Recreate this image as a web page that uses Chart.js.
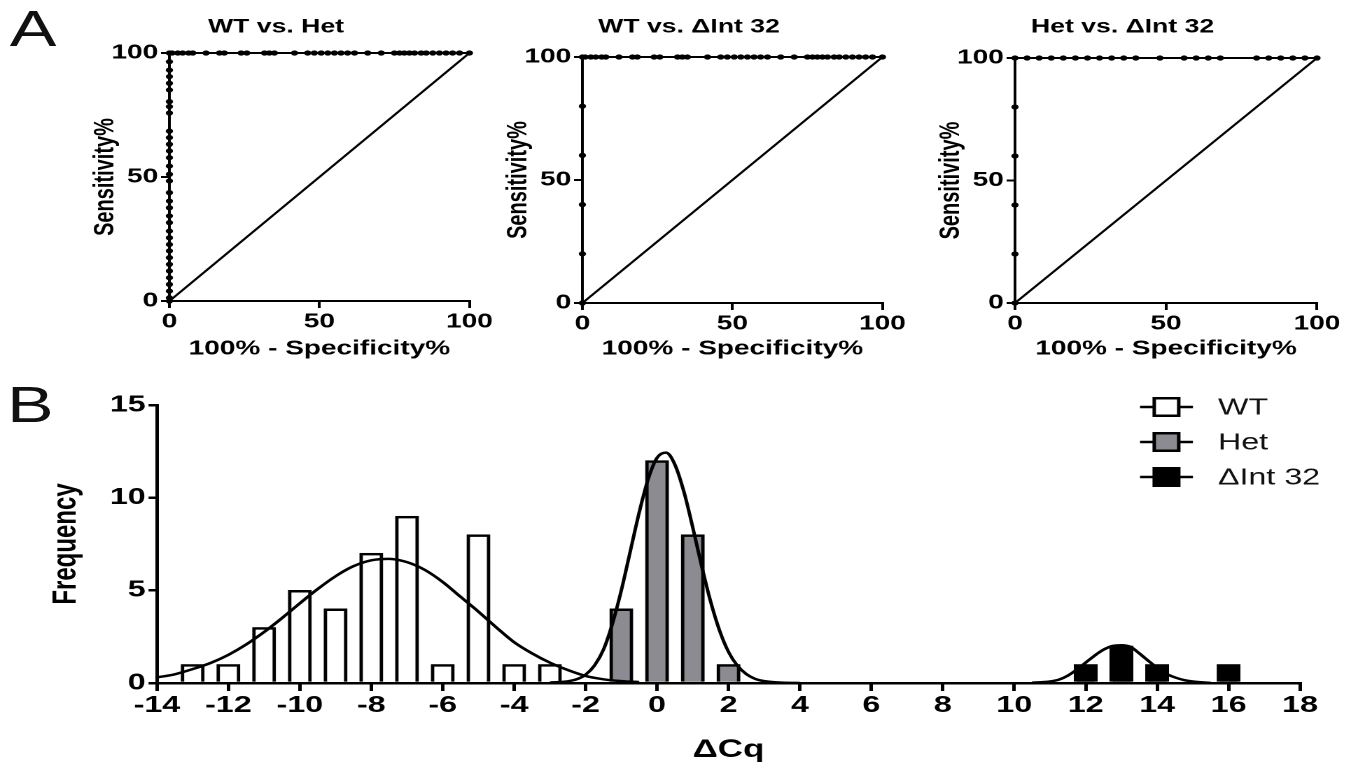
<!DOCTYPE html>
<html>
<head>
<meta charset="utf-8">
<title>ROC curves and ΔCq frequency distribution</title>
<script src="https://cdn.jsdelivr.net/npm/chart.js@4.4.1/dist/chart.umd.min.js"></script>
<style>
  body { margin: 0; background: #fff; overflow: hidden; }
  /* the source figure is stretched sideways, so the whole figure is drawn 968px wide and widened */
  #fig { position: absolute; left: 0; top: 0; width: 968px; height: 777px; transform: scaleX(1.4); transform-origin: 0 0; }
  #fig canvas { position: absolute; }
  .panel-tag { position: absolute; font: 50px/50px "Liberation Sans", Arial, sans-serif; color: #111; }
</style>
</head>
<body>
<div id="fig">
  <div class="panel-tag" style="left:7px; top:4px;">A</div>
  <div class="panel-tag" style="left:5px; top:380px;">B</div>
</div>
<script>
/* ---- panel A: ROC curves ---- */
const rocTitles = ['WT vs. Het', 'WT vs. \u0394Int 32', 'Het vs. \u0394Int 32'];
const rocTicks = [0, 50, 100];
// sensitivity steps along 100% - specificity = 0
const hetSensY = [0, 1.3, 4, 6.7, 9.4, 12.1, 14.8, 17.5, 20.2, 22.8, 25.5, 28.2, 31.6, 34.3, 37.6, 40.3,
                  43.7, 48.4, 51.1, 54.4, 57.8, 60.5, 63.2, 65.9, 68.5, 75.8, 78.4, 80.4, 85.1, 87.8, 90.5, 93.1, 96.5];
const int32SensY = [0, 20, 40, 60, 80];
// 100% - specificity steps along sensitivity = 100
const wtSpecX = [0, 0.9, 2.8, 4.4, 6.4, 7.8, 12.2, 16.7, 18.3, 23.9, 25.8, 31.7, 33.3, 35, 41.7, 46.1, 48.3,
                 50.6, 52.8, 55, 57.2, 59.4, 61.7, 66.1, 70.6, 75, 76.7, 78.3, 80, 81.7, 83.9, 85.6, 87.8,
                 90, 92.2, 94.4, 96.7, 100];
const hetSpecX = [0, 4, 8, 12, 16, 20, 24, 28, 32, 36, 40, 48, 56, 60, 64, 68, 80, 84, 88, 92, 96, 100];
const diagonal = [0, 100];

/* ---- panel B: frequency of dCq ---- */
const dcqTicks = [-14, -12, -10, -8, -6, -4, -2, 0, 2, 4, 6, 8, 10, 12, 14, 16, 18];
const freqTicks = [0, 5, 10, 15];
const wtBins = [-13, -12, -11, -10, -9, -8, -7, -6, -5, -4, -3];
const wtCounts = [1, 1, 3, 5, 4, 7, 9, 1, 8, 1, 1];
const hetBins = [-1, 0, 1, 2];
const hetCounts = [4, 12, 8, 1];
const int32Bins = [12, 13, 14, 16];
const int32Counts = [1, 2, 1, 1];
// fitted curves
const wtFitX = [-14, -13.5, -13, -12.5, -12, -11.5, -11, -10.5, -10, -9.5, -9, -8.5, -8, -7.5, -7, -6.5,
                -6, -5.5, -5, -4.5, -4, -3.5, -3, -2.5, -2, -1.5, -1, -0.5];
const wtFitY = [0.30, 0.47, 0.75, 1.08, 1.52, 2.08, 2.75, 3.5, 4.3, 5.07, 5.76, 6.3, 6.62, 6.7, 6.52, 6.1,
                5.45, 4.65, 3.85, 3.0, 2.2, 1.6, 1.1, 0.7, 0.38, 0.2, 0.1, 0.05];
const hetFitX = [-3, -2.5, -2.25, -2, -1.75, -1.5, -1.25, -1, -0.75, -0.5, -0.25, 0, 0.25, 0.5, 0.75, 1,
                 1.25, 1.5, 1.75, 2, 2.25, 2.5, 2.75, 3, 3.5, 4];
const hetFitY = [0.02, 0.09, 0.2, 0.45, 0.95, 1.8, 3.2, 5.0, 7.1, 9.2, 11.0, 12.15, 12.43, 11.78, 10.33, 8.39,
                 6.3, 4.39, 2.83, 1.68, 0.93, 0.48, 0.22, 0.1, 0.02, 0];
const int32FitX = [10.5, 10.75, 11, 11.25, 11.5, 11.75, 12, 12.25, 12.5, 12.75, 13, 13.25, 13.5, 13.75, 14,
                   14.25, 14.5, 14.75, 15, 15.5];
const int32FitY = [0.02, 0.04, 0.08, 0.18, 0.4, 0.72, 1.1, 1.48, 1.8, 2.0, 2.04, 1.95, 1.6, 1.2, 0.82,
                   0.5, 0.3, 0.16, 0.08, 0.01];

Chart.defaults.font.family = '"Liberation Sans", Arial, sans-serif';
Chart.defaults.color = '#000';

const fig = document.getElementById('fig');
function makeCanvas(left, top, w, h) {
  const c = document.createElement('canvas');
  c.width = w; c.height = h;
  c.style.left = left + 'px'; c.style.top = top + 'px';
  fig.appendChild(c);
  return c;
}
const pairs = (xs, ys) => xs.map((x, i) => ({x: x, y: ys[i]}));
const useTicks = arr => scale => { scale.ticks = arr.map(v => ({value: v})); };

const rocPanels = [
  {title: rocTitles[0], sens: hetSensY, spec: wtSpecX},
  {title: rocTitles[1], sens: int32SensY, spec: wtSpecX},
  {title: rocTitles[2], sens: int32SensY, spec: hetSpecX}
];
// plot-area boxes in figure pixels (before the sideways stretch)
const rocBoxes = [
  {left: 121.4, right: 335.7, top: 53, bottom: 301},
  {left: 415.7, right: 630, top: 57, bottom: 303},
  {left: 725, right: 940.7, top: 58, bottom: 303}
];
const SIDE = 62, ROC_H = 372;

rocPanels.forEach((p, i) => {
  const b = rocBoxes[i];
  const areaW = b.right - b.left;
  const w = Math.round(areaW + 2 * SIDE);
  const canvas = makeCanvas(b.left - SIDE, 0, w, ROC_H);
  const rocPts = p.sens.map(s => ({x: 0, y: s})).concat(p.spec.map(f => ({x: f, y: 100})));
  new Chart(canvas, {
    type: 'scatter',
    data: {
      datasets: [
        {data: rocPts, showLine: true, borderColor: '#000', backgroundColor: '#000', borderWidth: 2,
         pointRadius: 2.6, pointBorderWidth: 0, clip: false},
        {data: pairs(diagonal, diagonal), showLine: true, borderColor: '#000', borderWidth: 1.8,
         pointRadius: 0, clip: false}
      ]
    },
    options: {
      responsive: false, animation: false, devicePixelRatio: 2,
      layout: {padding: {left: 0, right: w - SIDE - areaW, top: 0, bottom: 0}},
      plugins: {
        legend: {display: false}, tooltip: {enabled: false},
        title: {display: true, text: p.title, color: '#000', font: {size: 19, weight: 'bold'},
                padding: {top: 16, bottom: b.top - 38.8}}
      },
      scales: {
        x: {
          type: 'linear', min: 0, max: 100,
          afterBuildTicks: useTicks(rocTicks),
          afterFit: s => { s.height = ROC_H - b.bottom; s.paddingLeft = 0; s.paddingRight = 0; },
          grid: {drawOnChartArea: false, drawTicks: true, tickLength: 7, color: '#000', lineWidth: 2},
          border: {display: true, color: '#000', width: 2},
          ticks: {padding: 2, maxRotation: 0, font: {size: 20, weight: 'bold'}},
          title: {display: true, text: '100% - Specificity%', font: {size: 20, weight: 'bold'},
                  padding: {top: 0, bottom: 11}}
        },
        y: {
          type: 'linear', min: 0, max: 100,
          afterBuildTicks: useTicks(rocTicks),
          afterFit: s => { s.width = SIDE; s.paddingTop = 0; s.paddingBottom = 0; },
          grid: {drawOnChartArea: false, drawTicks: true, tickLength: 6, color: '#000', lineWidth: 2},
          border: {display: true, color: '#000', width: 2},
          ticks: {padding: 2, font: {size: 20, weight: 'bold'}},
          title: {display: true, text: 'Sensitivity%', font: {size: 20, weight: 'bold'},
                  padding: {top: 4.5, bottom: 0}}
        }
      }
    }
  });
});

/* ---- panel B ---- */
const sideLegend = {
  id: 'sideLegend',
  afterDraw(chart, args, o) {
    const ctx = chart.ctx;
    const cx = (o.x0 + o.x1) / 2;
    chart.data.datasets.filter(d => d.type === 'bar').forEach((d, i) => {
      const y = o.top + i * o.gap;
      ctx.save();
      ctx.strokeStyle = '#000';
      ctx.lineWidth = 2.5;
      ctx.beginPath(); ctx.moveTo(o.x0, y); ctx.lineTo(o.x1, y); ctx.stroke();
      ctx.fillStyle = d.backgroundColor;
      ctx.fillRect(cx - o.box / 2, y - o.box / 2, o.box, o.box);
      ctx.strokeRect(cx - o.box / 2, y - o.box / 2, o.box, o.box);
      ctx.fillStyle = '#111';
      ctx.font = '23px "Liberation Sans", Arial, sans-serif';
      ctx.textBaseline = 'middle';
      ctx.fillText(d.label, o.textX, y + 1);
      ctx.restore();
    });
  }
};

const B_W = 968, B_H = 397;
const bArea = {left: 112.1, right: 928.6, top: 25, bottom: 303};
const histCanvas = makeCanvas(0, 380, B_W, B_H);
const barStyle = {type: 'bar', borderColor: '#000', borderWidth: 2.5, barThickness: 16.4, grouped: false, order: 2};
const fitStyle = {type: 'line', borderColor: '#000', borderWidth: 2.5, pointRadius: 0, fill: false,
                  cubicInterpolationMode: 'monotone', order: 1, clip: false};

new Chart(histCanvas, {
  type: 'bar',
  data: {
    datasets: [
      Object.assign({label: 'WT', data: pairs(wtBins, wtCounts), backgroundColor: '#ffffff'}, barStyle),
      Object.assign({label: 'Het', data: pairs(hetBins, hetCounts), backgroundColor: '#8b8b91'}, barStyle),
      Object.assign({label: '\u0394Int 32', data: pairs(int32Bins, int32Counts), backgroundColor: '#000000'}, barStyle),
      Object.assign({label: 'WT fit', data: pairs(wtFitX, wtFitY)}, fitStyle),
      Object.assign({label: 'Het fit', data: pairs(hetFitX, hetFitY)}, fitStyle),
      Object.assign({label: '\u0394Int 32 fit', data: pairs(int32FitX, int32FitY)}, fitStyle)
    ]
  },
  options: {
    responsive: false, animation: false, devicePixelRatio: 2,
    layout: {padding: {left: 0, right: B_W - bArea.right, top: bArea.top, bottom: 0}},
    plugins: {
      legend: {display: false}, tooltip: {enabled: false},
      sideLegend: {x0: 814.3, x1: 852.1, box: 17.5, textX: 870, top: 27, gap: 35}
    },
    scales: {
      x: {
        type: 'linear', min: -14, max: 18, offset: false,
        afterBuildTicks: useTicks(dcqTicks),
        afterFit: s => { s.height = B_H - bArea.bottom; s.paddingLeft = 0; s.paddingRight = 0; },
        grid: {offset: false, drawOnChartArea: false, drawTicks: true, tickLength: 8, color: '#000', lineWidth: 2.5},
        border: {display: true, color: '#000', width: 2.5},
        ticks: {padding: 1, maxRotation: 0, autoSkip: false, font: {size: 23, weight: 'bold'}},
        title: {display: true, text: '\u0394Cq', font: {size: 25, weight: 'bold'}, padding: {top: 0, bottom: 12}}
      },
      y: {
        type: 'linear', min: 0, max: 15,
        afterBuildTicks: useTicks(freqTicks),
        afterFit: s => { s.width = bArea.left; s.paddingTop = 0; s.paddingBottom = 0; },
        grid: {drawOnChartArea: false, drawTicks: true, tickLength: 6, color: '#000', lineWidth: 2.5},
        border: {display: true, color: '#000', width: 2.5},
        ticks: {padding: 2, font: {size: 23, weight: 'bold'}},
        title: {display: true, text: 'Frequency', font: {size: 24, weight: 'bold'}, padding: {top: 33, bottom: 0}}
      }
    }
  },
  plugins: [sideLegend]
});
</script>
</body>
</html>
